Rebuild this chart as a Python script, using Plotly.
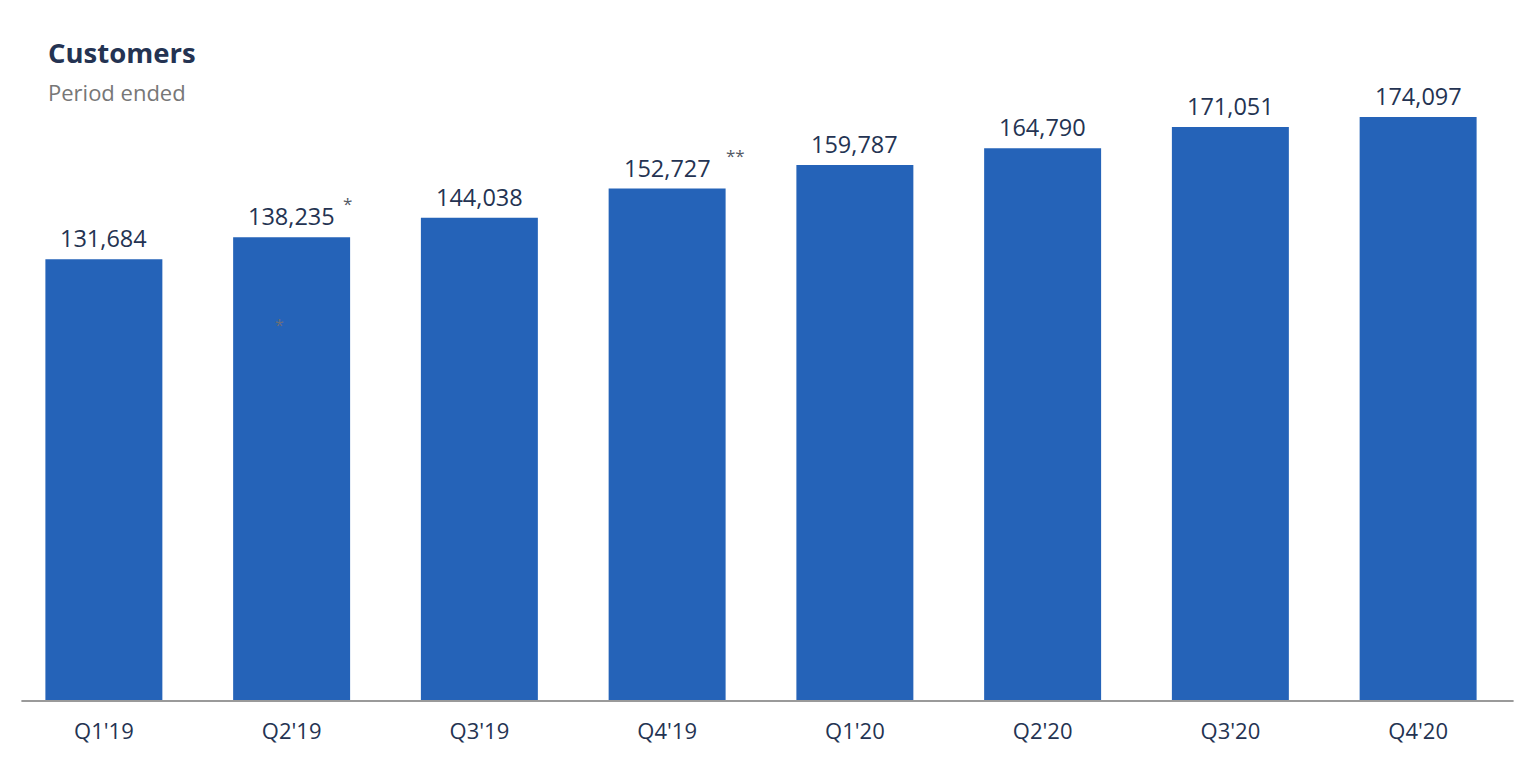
import plotly.graph_objects as go

categories = ["Q1'19", "Q2'19", "Q3'19", "Q4'19", "Q1'20", "Q2'20", "Q3'20", "Q4'20"]
customers = [131684, 138235, 144038, 152727, 159787, 164790, 171051, 174097]
footnotes = ["", "*", "", "**", "", "", "", ""]

W, H = 1538, 770
OFF = 8  # page body margin offset
L, R, T, B = 1.6, 33.6, 22, 77
PW = W - L - R
PH = H - T - B

def px_x(x):
    return (x - OFF - L) / PW

def px_y(y):
    return (H - B - (y - OFF)) / PH

BAR = "#2563b8"
NAVY = "#243352"

fig = go.Figure()
fig.add_trace(go.Bar(
    x=categories, y=customers, marker=dict(color=BAR, line=dict(width=0)),
    hoverinfo="x+y",
))

for c, v, f in zip(categories, customers, footnotes):
    fig.add_annotation(x=c, y=v, text=f"{v:,}", showarrow=False, yanchor="bottom",
                       yshift=3, font=dict(size=23.5, color=NAVY, family="Open Sans"))
    if f:
        fig.add_annotation(x=c, y=v, text=f, showarrow=False, yanchor="bottom",
                           xanchor="left", xshift=49 if f == "*" else 57, yshift=20,
                           font=dict(size=17, color="#555a66", family="Open Sans"))

# small asterisk inside the Q2'19 bar
fig.add_annotation(x="Q2'19", y=112000, text="*", showarrow=False,
                   xshift=-12, font=dict(size=16, color="#6b6f7a", family="Open Sans"))

fig.add_annotation(xref="paper", yref="paper", x=px_x(46), y=px_y(52), text="<b>Customers</b>",
                   showarrow=False, xanchor="left", yanchor="middle",
                   font=dict(size=27.5, color=NAVY, family="Open Sans"))
fig.add_annotation(xref="paper", yref="paper", x=px_x(46), y=px_y(92), text="Period ended",
                   showarrow=False, xanchor="left", yanchor="middle",
                   font=dict(size=22, color="#777777", family="Open Sans"))

fig.add_shape(type="line", xref="paper", yref="paper", x0=px_x(21), x1=px_x(1514), y0=0, y1=0,
              line=dict(color="#9a9a9a", width=2))

fig.update_layout(
    width=W, height=H, margin=dict(l=L, r=R, t=T, b=B),
    plot_bgcolor="white", paper_bgcolor="white", bargap=0.377, showlegend=False,
    font=dict(family="Open Sans", color=NAVY),
)
fig.update_xaxes(showgrid=False, showline=False, zeroline=False, ticks="",
                 ticklabelstandoff=15, tickfont=dict(size=22, color=NAVY, family="Open Sans"))
fig.update_yaxes(range=[0, 200000], visible=False, showgrid=False, zeroline=False)

fig.write_html("out.html")
